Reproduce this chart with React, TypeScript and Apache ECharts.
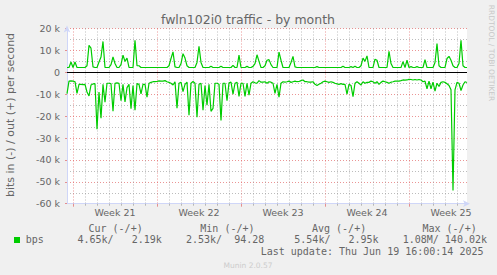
import React, { useEffect, useRef } from "react";
import * as echarts from "echarts";

// ---- data (values in k bits per second), one slot = 4 hours ----
const outValues: number[] = [
  2.2, 2.2, 4.7, 2.2, 4.7, 2.2, 2.2, 2.2, 2.2, 2.2,
  3.0, 12.3, 11.0, 2.5, 2.2, 2.2, 4.7, 7.0, 14.1, 2.2,
  2.2, 2.2, 3.5, 7.0, 4.0, 2.2, 2.2, 3.5, 7.8, 5.0,
  6.5, 2.2, 2.2, 2.2, 14.6, 3.0, 3.0, 2.2, 2.2, 2.2,
  2.2, 2.2, 2.2, 2.2, 2.2, 2.2, 2.2, 2.2, 2.2, 2.2,
  2.2, 3.0, 6.3, 9.3, 2.5, 2.2, 2.2, 4.0, 8.5, 6.5,
  3.0, 2.2, 2.2, 2.2, 2.2, 4.5, 11.9, 4.5, 2.2, 2.2,
  2.2, 2.2, 2.8, 2.2, 2.2, 2.2, 2.2, 2.8, 2.2, 2.2,
  2.2, 2.2, 2.2, 3.2, 2.2, 2.2, 7.8, 2.2, 2.2, 2.2,
  2.7, 2.2, 2.2, 2.7, 4.0, 8.0, 5.0, 2.2, 2.2, 3.0,
  5.5, 5.8, 3.5, 2.2, 2.2, 2.2, 9.2, 5.5, 2.2, 2.2,
  2.2, 2.2, 4.5, 7.3, 2.5, 2.2, 2.2, 2.2, 2.2, 2.2,
  2.2, 2.2, 2.2, 2.2, 2.2, 2.6, 2.2, 2.2, 2.2, 2.2,
  2.2, 2.2, 2.2, 2.2, 2.2, 2.2, 2.2, 2.2, 2.8, 2.2,
  2.2, 2.2, 2.6, 2.2, 2.8, 2.2, 2.2, 3.0, 6.5, 5.0,
  7.5, 2.2, 2.2, 2.2, 6.0, 5.5, 2.2, 2.2, 2.2, 2.2,
  2.2, 9.6, 4.0, 2.2, 2.2, 2.2, 2.2, 2.2, 4.9, 2.2,
  5.5, 2.2, 2.6, 2.2, 2.2, 2.6, 2.2, 2.2, 2.2, 5.8,
  2.2, 2.2, 2.2, 2.2, 4.5, 13.1, 3.0, 2.2, 2.2, 2.2,
  6.3, 7.3, 5.5, 3.0, 2.2, 2.2, 4.0, 14.6, 3.0, 2.2,
  2.19,
];

const inValues: number[] = [
  -9.7, -4.0, -3.9, -4.0, -4.3, -9.6, -5.5, -5.5, -5.6, -5.5,
  -9.0, -10.8, -5.8, -5.3, -5.2, -26.0, -9.0, -21.0, -5.5, -13.6,
  -5.0, -5.0, -5.2, -17.8, -5.0, -4.8, -5.0, -13.0, -5.5, -13.5,
  -7.0, -5.5, -16.6, -6.0, -17.3, -5.2, -5.5, -9.8, -5.5, -5.5,
  -11.3, -5.0, -4.6, -4.3, -4.3, -4.2, -3.9, -4.0, -4.0, -3.8,
  -4.3, -4.6, -5.0, -5.8, -4.3, -16.4, -5.0, -4.5, -8.8, -5.5,
  -4.5, -19.6, -5.0, -4.2, -5.0, -20.5, -5.5, -5.0, -17.3, -6.0,
  -15.0, -5.5, -17.8, -16.5, -5.0, -5.0, -5.5, -22.0, -5.0, -5.0,
  -13.0, -4.8, -4.5, -10.0, -5.0, -4.5, -11.0, -5.0, -5.0, -11.0,
  -5.0, -10.4, -5.0, -4.3, -4.8, -5.0, -3.8, -4.5, -4.5, -4.3,
  -5.0, -4.3, -4.5, -5.0, -9.6, -5.5, -11.3, -5.0, -4.3, -4.5,
  -4.3, -4.0, -4.6, -4.3, -4.0, -4.3, -4.2, -3.8, -3.5, -4.3,
  -4.3, -4.5, -4.5, -4.3, -5.5, -6.0, -5.5, -5.0, -4.3, -4.0,
  -4.3, -4.6, -4.3, -4.6, -5.0, -5.3, -5.5, -5.2, -5.5, -5.5,
  -10.0, -5.5, -6.0, -11.1, -5.0, -4.3, -5.0, -5.8, -4.3, -5.0,
  -4.6, -4.6, -4.0, -4.3, -5.0, -4.3, -5.5, -4.6, -4.0, -4.3,
  -4.6, -5.0, -4.5, -4.3, -4.0, -4.0, -4.0, -3.8, -3.5, -3.6,
  -3.5, -3.2, -3.3, -3.5, -3.3, -3.5, -3.3, -3.5, -4.3, -4.0,
  -7.5, -4.0, -7.5, -4.5, -8.6, -5.0, -6.5, -4.6, -4.3, -4.6,
  -5.2, -6.0, -8.0, -54.0, -8.0, -4.6, -5.0, -8.3, -5.8, -4.3,
  -4.65,
];

const slots: string[] = outValues.map((_, i) => String(i));
const weekStartSlots = [3, 45, 87, 129, 171];
const weekLabelSlots = [24, 66, 108, 150, 192];
const weekLabels = ["Week 21", "Week 22", "Week 23", "Week 24", "Week 25"];
const slotsPerDay = 6;
const firstDaySlot = 3;

const legendHeaders = ["Cur (-/+)", "Min (-/+)", "Avg (-/+)", "Max (-/+)"];
const legendValues = ["4.65k/   2.19k", "2.53k/  94.28", "5.54k/   2.95k", "1.08M/ 140.02k"];
const headerX = [88.5, 200.3, 312, 422.5];
const valueX = [77.5, 186, 294.3, 402.7];

const GREEN = "#00CC00";
const FONT_C = "#666666";
const AXIS_C = "#CFD6F8";
const MGRID = "rgba(222,79,79,0.6)";
const GRID = "rgba(143,143,143,0.6)";
const SANS = "DejaVu Sans";
const MONO = "DejaVu Sans Mono";

export default function App() {
  const ref = useRef<HTMLDivElement>(null);
  useEffect(() => {
    if (!ref.current) return;
    const chart = echarts.init(ref.current, undefined, { renderer: "svg" });
    const isWeek = (i: number) => weekStartSlots.includes(i);
    const isDay = (i: number) => i >= firstDaySlot && (i - firstDaySlot) % slotsPerDay === 0;

    const graphic: any[] = [
      {
        type: "text", x: 248, y: 19,
        style: { text: "fwln102i0 traffic - by month", fill: FONT_C, font: `12.5px '${SANS}'`, textAlign: "center", textVerticalAlign: "middle" },
      },
      {
        type: "text", x: 10.5, y: 115, rotation: Math.PI / 2,
        style: { text: "bits in (-) / out (+) per second", fill: FONT_C, font: `11px '${SANS}'`, textAlign: "center", textVerticalAlign: "middle" },
      },
      {
        type: "text", x: 491, y: 53, rotation: -Math.PI / 2,
        style: { text: "RRDTOOL / TOBI OETIKER", fill: "#c8c8c8", font: `7.5px '${SANS}'`, textAlign: "center", textVerticalAlign: "middle" },
      },
      { type: "rect", shape: { x: 14, y: 237, width: 6, height: 6 }, style: { fill: GREEN } },
      {
        type: "text", x: 25.8, y: 239.5,
        style: { text: "bps", fill: FONT_C, font: `10px '${MONO}'`, textAlign: "left", textVerticalAlign: "middle" },
      },
      {
        type: "text", x: 260.7, y: 251.5,
        style: { text: "Last update: Thu Jun 19 16:00:14 2025", fill: FONT_C, font: `10px '${MONO}'`, textAlign: "left", textVerticalAlign: "middle" },
      },
      {
        type: "text", x: 248, y: 265,
        style: { text: "Munin 2.0.57", fill: "#cccccc", font: `7.5px '${SANS}'`, textAlign: "center", textVerticalAlign: "middle" },
      },
    ];
    legendHeaders.forEach((t, k) =>
      graphic.push({
        type: "text", x: headerX[k], y: 228,
        style: { text: t, fill: FONT_C, font: `10px '${MONO}'`, textAlign: "left", textVerticalAlign: "middle" },
      })
    );
    legendValues.forEach((t, k) =>
      graphic.push({
        type: "text", x: valueX[k], y: 239.5,
        style: { text: t, fill: FONT_C, font: `10px '${MONO}'`, textAlign: "left", textVerticalAlign: "middle" },
      })
    );

    chart.setOption({
      animation: false,
      backgroundColor: "#F0F0F0",
      grid: {
        left: 67, top: 28.5, right: 30, bottom: 71.3,
        show: true, backgroundColor: "#FFFFFF", borderWidth: 0,
        outerBoundsMode: "none", containLabel: false,
      },
      xAxis: [
        {
          type: "category", data: slots, boundaryGap: false, position: "bottom",
          axisLine: { show: true, onZero: false, lineStyle: { color: AXIS_C, width: 1 }, symbol: ["none", "arrow"], symbolSize: [5, 7], symbolOffset: [0, 3] },
          axisTick: { show: true, length: 2, interval: (i: number) => isDay(i) && !isWeek(i), lineStyle: { color: GRID } },
          axisLabel: {
            show: true, interval: (i: number) => weekLabelSlots.includes(i),
            formatter: (_v: string, i: number) => weekLabels[weekLabelSlots.indexOf(i)] ?? "",
            color: FONT_C, fontFamily: SANS, fontSize: 9.5, margin: 4,
          },
          splitLine: { show: true, interval: (i: number) => isDay(i) && !isWeek(i), lineStyle: { color: GRID, type: [1, 2], width: 1 } },
        },
        {
          type: "category", data: slots, boundaryGap: false, position: "bottom",
          axisLine: { show: false, onZero: false },
          axisTick: { show: true, length: 3, interval: (i: number) => isWeek(i), lineStyle: { color: MGRID } },
          axisLabel: { show: false },
          splitLine: { show: true, interval: (i: number) => isWeek(i), lineStyle: { color: MGRID, type: [1, 2], width: 1 } },
        },
      ],
      yAxis: {
        type: "value", min: -60, max: 20, interval: 10,
        axisLine: { show: true, onZero: false, lineStyle: { color: AXIS_C, width: 1 }, symbol: ["none", "arrow"], symbolSize: [5, 7], symbolOffset: [0, 3] },
        axisTick: { show: true, length: 2, lineStyle: { color: MGRID } },
        axisLabel: {
          formatter: (v: number) => (v === 0 ? "0" : `${v} k`),
          color: FONT_C, fontFamily: SANS, fontSize: 9.5, margin: 7,
        },
        splitLine: { show: true, lineStyle: { color: MGRID, type: [1, 2], width: 1 } },
        minorTick: { show: false, splitNumber: 2 },
        minorSplitLine: { show: true, lineStyle: { color: GRID, type: [1, 2], width: 1 } },
      },
      series: [
        {
          name: "out", type: "line", data: outValues, symbol: "none",
          lineStyle: { color: GREEN, width: 1.2 }, z: 3,
          markLine: {
            silent: true, symbol: "none", label: { show: false },
            lineStyle: { color: "#000000", width: 1, type: "solid" },
            data: [{ yAxis: 0 }],
          },
        },
        {
          name: "in", type: "line", data: inValues, symbol: "none",
          lineStyle: { color: GREEN, width: 1.2 }, z: 3,
        },
      ],
      graphic,
    });
    return () => chart.dispose();
  }, []);

  return (
    <div
      ref={ref}
      style={{ position: "fixed", left: 0, top: 0, width: 497, height: 275 }}
    />
  );
}
